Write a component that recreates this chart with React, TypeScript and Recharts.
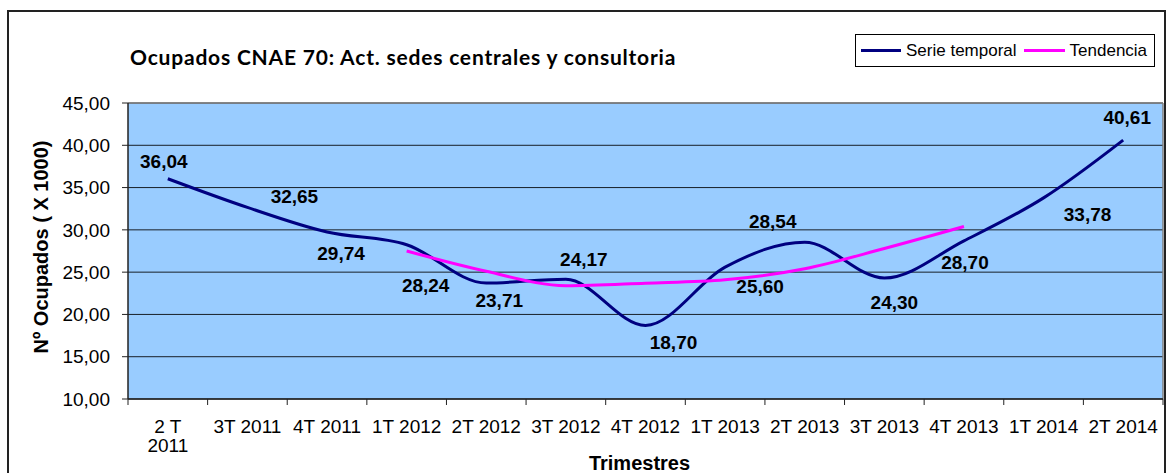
import {
  LineChart,
  Line,
  XAxis,
  YAxis,
  CartesianGrid,
  LabelList,
  ReferenceLine,
} from 'recharts';

const QUARTERS = [
  '2 T 2011', '3T 2011', '4T 2011', '1T 2012', '2T 2012', '3T 2012', '4T 2012',
  '1T 2013', '2T 2013', '3T 2013', '4T 2013', '1T 2014', '2T 2014',
];
const SERIE = [36.04, 32.65, 29.74, 28.24, 23.71, 24.17, 18.7, 25.6, 28.54, 24.3, 28.7, 33.78, 40.61];
const TENDENCIA = [null, null, null, 27.5, 25.1, 23.4, 23.7, 24.1, 25.4, 27.8, 30.4, null, null];
const Y_TICKS = [10, 15, 20, 25, 30, 35, 40, 45];

// where Excel put each data label, relative to its point
const LABEL_OFFSETS: [number, number][] = [
  [-4, -17], [47, -11], [14, 21], [19, 41], [13, 17], [18, -20], [28, 17],
  [35, 19], [-32, -21], [10, 24], [1, 21], [44, 16], [4, -23],
];

const data = QUARTERS.map((q, i) => ({ x: i, name: q, serie: SERIE[i], tend: TENDENCIA[i] }));
const boundaries = QUARTERS.map((_, i) => i - 0.5).concat([QUARTERS.length - 0.5]);
const centers = QUARTERS.map((_, i) => i);

const FONT = 'Arial, "Liberation Sans", sans-serif';
const fmt = (v: number) => v.toFixed(2).replace('.', ',');

const QuarterTick = (props: any) => {
  const { x, y, payload } = props;
  const label = QUARTERS[payload.value] ?? '';
  const lines = payload.value === 0 ? ['2 T', '2011'] : [label];
  return (
    <text x={x} y={y + 26} textAnchor="middle" fontSize={19} fontFamily={FONT} fill="#000">
      {lines.map((l, i) => (
        <tspan key={i} x={x} dy={i === 0 ? 0 : 19}>
          {l}
        </tspan>
      ))}
    </text>
  );
};

const DataLabel = (props: any) => {
  const { x, y, value, index } = props;
  const [dx, dy] = LABEL_OFFSETS[index] ?? [0, -15];
  return (
    <text
      x={x + dx}
      y={y + dy}
      dy="0.35em"
      textAnchor="middle"
      fontSize={19}
      fontWeight="bold"
      fontFamily={FONT}
      fill="#000"
    >
      {fmt(value)}
    </text>
  );
};

const LegendBox = () => (
  <div
    style={{
      position: 'absolute',
      left: 855,
      top: 34,
      width: 300,
      height: 33,
      border: '1px solid #000',
      background: '#fff',
      boxSizing: 'border-box',
      display: 'flex',
      alignItems: 'center',
      fontFamily: FONT,
      fontSize: 17,
      color: '#000',
      paddingLeft: 5,
    }}
  >
    <span style={{ display: 'inline-block', width: 40, height: 3, background: '#000080', marginRight: 5 }} />
    <span style={{ marginRight: 7 }}>Serie temporal</span>
    <span style={{ display: 'inline-block', width: 41, height: 3, background: '#FF00FF', marginRight: 5 }} />
    <span>Tendencia</span>
  </div>
);

export default function App() {
  return (
    <div
      style={{
        position: 'absolute',
        left: 0,
        top: 0,
        width: 1168,
        height: 473,
        overflow: 'hidden',
        background: '#fff',
      }}
    >
      <div
        style={{
          position: 'absolute',
          left: 7,
          top: 10,
          width: 1159,
          height: 500,
          border: '2px solid #222',
          boxSizing: 'border-box',
        }}
      />
      <div
        style={{
          position: 'absolute',
          left: 130,
          top: 44,
          fontFamily: 'Lato, "Open Sans", sans-serif',
          fontWeight: 'bold',
          fontSize: 21,
          letterSpacing: 0.8,
          color: '#000',
          whiteSpace: 'nowrap',
        }}
      >
        Ocupados CNAE 70: Act. sedes centrales y consultoria
      </div>
      <div style={{ position: 'absolute', left: 0, top: 0 }}>
        <LineChart width={1168} height={473} data={data} margin={{ top: 103, right: 5, left: 0, bottom: 0 }}>
          <CartesianGrid
            vertical={false}
            horizontal
            fill="#99CCFF"
            fillOpacity={1}
            stroke="#000"
            strokeOpacity={0.85}
          />
          <XAxis
            dataKey="x"
            type="number"
            domain={[-0.5, QUARTERS.length - 0.5]}
            ticks={boundaries}
            interval={0}
            allowDataOverflow
            height={8}
            tickSize={6}
            tickLine={{ stroke: '#222' }}
            axisLine={{ stroke: '#222', strokeWidth: 1.5 }}
            tick={() => <g />}
          />
          <XAxis
            xAxisId="labels"
            dataKey="x"
            type="number"
            domain={[-0.5, QUARTERS.length - 0.5]}
            ticks={centers}
            interval={0}
            allowDataOverflow
            height={66}
            tickSize={0}
            tickMargin={0}
            tickLine={false}
            axisLine={false}
            tick={<QuarterTick />}
            label={{
              content: (p: any) => {
                const vb = p.viewBox;
                return (
                  <text
                    x={vb.x + vb.width / 2 - 6}
                    y={vb.y + 63}
                    textAnchor="middle"
                    fontSize={20}
                    fontWeight="bold"
                    fontFamily={FONT}
                    fill="#000"
                  >
                    Trimestres
                  </text>
                );
              },
            }}
          />
          <YAxis
            type="number"
            domain={[10, 45]}
            ticks={Y_TICKS}
            interval={0}
            allowDataOverflow
            width={128}
            tickSize={6}
            tickMargin={12}
            tickLine={{ stroke: '#222' }}
            axisLine={{ stroke: '#222', strokeWidth: 1.5 }}
            tick={{ fontSize: 19, fontFamily: FONT, fill: '#000' }}
            tickFormatter={fmt}
            label={{
              content: (p: any) => {
                const vb = p.viewBox;
                const cx = 41;
                const cy = vb.y + vb.height / 2 - 4;
                return (
                  <text
                    x={cx}
                    y={cy}
                    transform={`rotate(-90 ${cx} ${cy})`}
                    textAnchor="middle"
                    dominantBaseline="central"
                    fontSize={20}
                    fontWeight="bold"
                    fontFamily={FONT}
                    fill="#000"
                  >
                    Nº Ocupados ( X 1000)
                  </text>
                );
              },
            }}
          />
          <ReferenceLine x={QUARTERS.length - 0.5} stroke="#808080" strokeWidth={1.5} />
          <ReferenceLine y={45} stroke="#808080" strokeWidth={1.5} />
          <Line
            name="Serie temporal"
            type="monotone"
            dataKey="serie"
            stroke="#000080"
            strokeWidth={3}
            dot={false}
            activeDot={false}
            isAnimationActive={false}
          >
            <LabelList dataKey="serie" content={<DataLabel />} />
          </Line>
          <Line
            name="Tendencia"
            type="monotone"
            dataKey="tend"
            stroke="#FF00FF"
            strokeWidth={3}
            dot={false}
            activeDot={false}
            isAnimationActive={false}
          />
        </LineChart>
      </div>
      <LegendBox />
    </div>
  );
}
